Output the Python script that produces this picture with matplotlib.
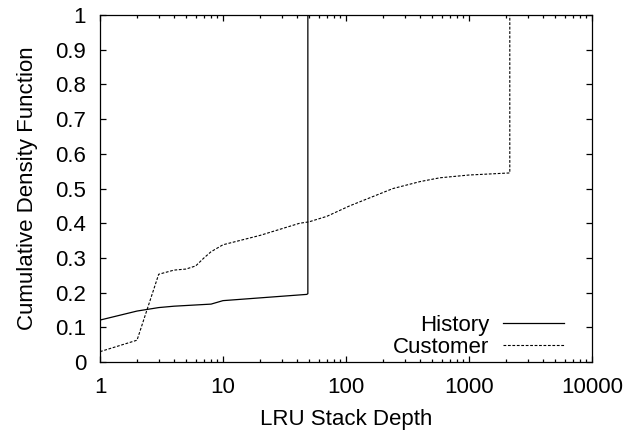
import matplotlib
matplotlib.use("Agg")
import matplotlib.pyplot as plt
from matplotlib.ticker import LogLocator, FixedLocator, NullFormatter

plt.rcParams['font.family'] = ['Liberation Sans', 'DejaVu Sans']
plt.rcParams['font.size'] = 16

# History curve
hist_x = [1, 2, 3, 4, 8, 10, 48, 49, 49]
hist_y = [0.121, 0.147, 0.157, 0.161, 0.167, 0.177, 0.195, 0.197, 1.0]

# Customer curve
cust_x = [1, 2, 3, 4, 5, 6, 7, 8, 10, 20, 42, 50, 70, 107, 241, 400, 580, 1000, 2150, 2150]
cust_y = [0.03, 0.063, 0.253, 0.265, 0.268, 0.277, 0.30, 0.318, 0.338, 0.365, 0.40,
          0.404, 0.42, 0.45, 0.50, 0.52, 0.531, 0.539, 0.545, 1.0]

x_ticks = [1, 10, 100, 1000, 10000]
x_tick_labels = ['1', '10', '100', '1000', '10000']
y_ticks = [0, 0.1, 0.2, 0.3, 0.4, 0.5, 0.6, 0.7, 0.8, 0.9, 1]
y_tick_labels = ['0', '0.1', '0.2', '0.3', '0.4', '0.5', '0.6', '0.7', '0.8', '0.9', '1']

fig = plt.figure(figsize=(6.29, 4.30), dpi=100)
ax = fig.add_axes([0.159, 0.158, 0.782, 0.807])

ax.plot(hist_x, hist_y, color='black', lw=0.9, label='History')
ax.plot(cust_x, cust_y, color='black', lw=0.8, linestyle=(0, (2.5, 1.5)), label='Customer')

ax.set_xscale('log')
ax.set_xlim(1, 10000)
ax.set_ylim(0, 1)
ax.xaxis.set_major_locator(FixedLocator(x_ticks))
ax.set_xticklabels(x_tick_labels)
ax.xaxis.set_minor_locator(LogLocator(base=10, subs=range(2, 10)))
ax.xaxis.set_minor_formatter(NullFormatter())
ax.set_yticks(y_ticks)
ax.set_yticklabels(y_tick_labels)

ax.tick_params(which='both', direction='in', top=True, right=True, width=0.9)
ax.tick_params(which='major', length=4.3)
ax.tick_params(axis='x', which='major', pad=11)
ax.tick_params(axis='y', which='major', pad=10)
ax.tick_params(which='minor', length=2.2)
for s in ax.spines.values():
    s.set_linewidth(0.9)

ax.set_xlabel('LRU Stack Depth', labelpad=8)
ax.set_ylabel('Cumulative Density Function', labelpad=12)

ax.legend(loc='lower right', bbox_to_anchor=(0.943, 0.012), frameon=False,
          markerfirst=False, handlelength=2.75, handletextpad=0.6,
          labelspacing=0.05, borderpad=0, borderaxespad=0)

fig.savefig('out.png', dpi=100)
